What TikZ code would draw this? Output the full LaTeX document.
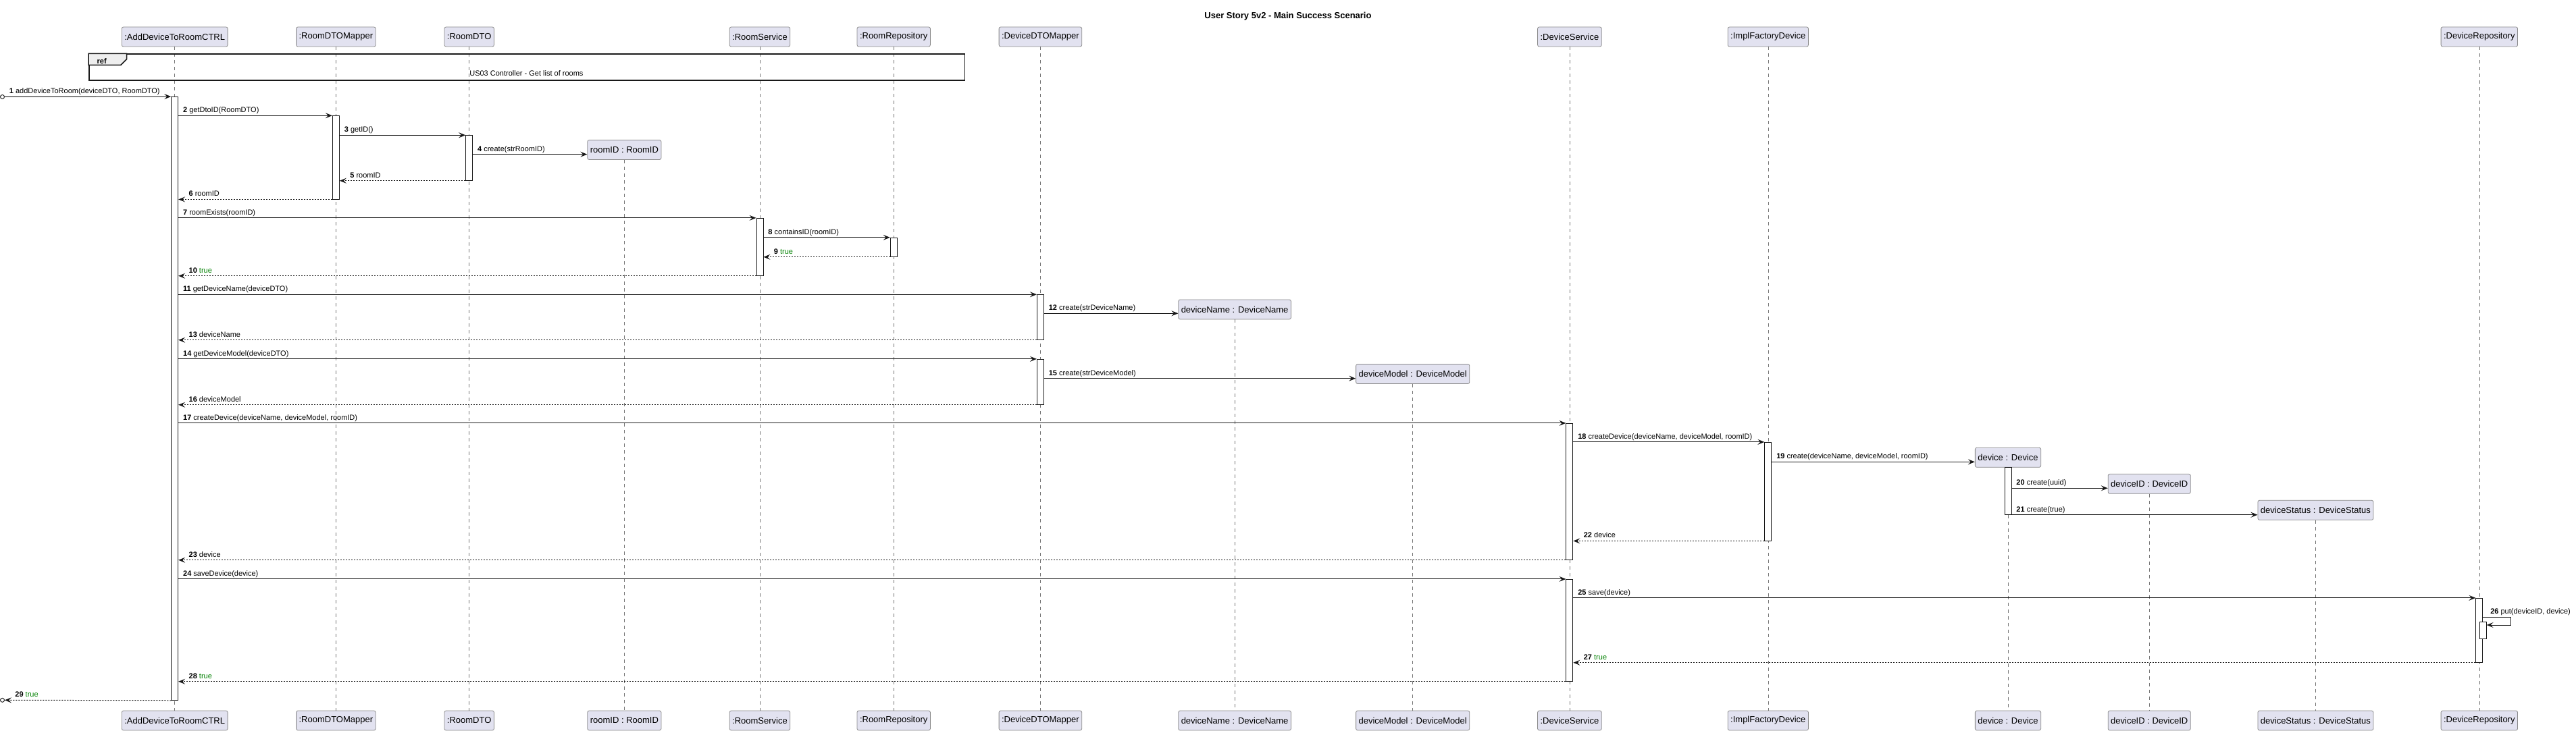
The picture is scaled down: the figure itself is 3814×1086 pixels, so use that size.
\documentclass[tikz,border=0pt]{standalone}
\usepackage{fontspec}
\setmainfont{Liberation Sans}
\usetikzlibrary{arrows.meta}

\definecolor{umlline}{HTML}{181818}
\definecolor{umlbox}{HTML}{E2E2F0}
\definecolor{umlborder}{HTML}{8A8A8A}
\definecolor{truegreen}{HTML}{008000}
\definecolor{reftab}{HTML}{EEEEEE}

\tikzset{
  part/.style={draw=umlborder, fill=umlbox, rounded corners=2.5pt, inner xsep=4pt, inner ysep=0pt,
    minimum height=29pt, line width=0.8pt, font=\fontsize{13}{15}\selectfont},
  lifeline/.style={draw=umlline!60, line width=0.6pt, dash pattern=on 5pt off 5pt},
  actbar/.style={draw=umlline, fill=white, minimum width=10pt, inner sep=0pt, line width=0.9pt},
  call/.style={draw=umlline, line width=1pt, -{Stealth[length=10pt, width=8pt, inset=4pt]}},
  reply/.style={call, dash pattern=on 2pt off 2pt},
  lbl/.style={anchor=base west, inner sep=0pt, yshift=4.5pt, font=\fontsize{11}{13}\selectfont},
  lblcall/.style={lbl, pos=0, xshift=6.5pt},
  lblreply/.style={lbl, pos=1, xshift=15pt},
  found/.style={draw=umlline, fill=white, circle, minimum size=6pt, inner sep=0pt, line width=0.9pt}
}
\newcommand{\tru}{\textcolor{truegreen}{true}}

\begin{document}
\begin{tikzpicture}[x=1pt, y=-1pt]
	\useasboundingbox (0,0) rectangle (3814,1086);
	\node[font=\bfseries\fontsize{13}{15}\selectfont, anchor=base] (title) at (1907,27.5) {User Story 5v2 - Main Success Scenario};

	% participants, top and bottom
	\node[part] (ctrlT) at (258.7,54.5) {:AddDeviceToRoomCTRL};
	\node[part] (ctrlB) at (258.7,1067.5) {:AddDeviceToRoomCTRL};
	\node[part] (rdmT) at (497.4,54.5) {:RoomDTOMapper};
	\node[part] (rdmB) at (497.4,1067.5) {:RoomDTOMapper};
	\node[part] (rdtoT) at (694.7,54.5) {:RoomDTO};
	\node[part] (rdtoB) at (694.7,1067.5) {:RoomDTO};
	\node[part] (ridT) at (924.4,222) {roomID : RoomID};
	\node[part] (ridB) at (924.4,1067.5) {roomID : RoomID};
	\node[part] (rsvT) at (1125,54.5) {:RoomService};
	\node[part] (rsvB) at (1125,1067.5) {:RoomService};
	\node[part] (rrpT) at (1323.2,54.5) {:RoomRepository};
	\node[part] (rrpB) at (1323.2,1067.5) {:RoomRepository};
	\node[part] (ddmT) at (1540.4,54.5) {:DeviceDTOMapper};
	\node[part] (ddmB) at (1540.4,1067.5) {:DeviceDTOMapper};
	\node[part] (dnmT) at (1828.1,458.5) {deviceName : DeviceName};
	\node[part] (dnmB) at (1828.1,1067.5) {deviceName : DeviceName};
	\node[part] (dmdT) at (2091.7,554) {deviceModel : DeviceModel};
	\node[part] (dmdB) at (2091.7,1067.5) {deviceModel : DeviceModel};
	\node[part] (dsvT) at (2323.9,54.5) {:DeviceService};
	\node[part] (dsvB) at (2323.9,1067.5) {:DeviceService};
	\node[part] (ifdT) at (2617.8,54.5) {:ImplFactoryDevice};
	\node[part] (ifdB) at (2617.8,1067.5) {:ImplFactoryDevice};
	\node[part] (devT) at (2973,677.8) {device : Device};
	\node[part] (devB) at (2973,1067.5) {device : Device};
	\node[part] (didT) at (3182.2,716.8) {deviceID : DeviceID};
	\node[part] (didB) at (3182.2,1067.5) {deviceID : DeviceID};
	\node[part] (dstT) at (3428.4,755.8) {deviceStatus : DeviceStatus};
	\node[part] (dstB) at (3428.4,1067.5) {deviceStatus : DeviceStatus};
	\node[part] (drpT) at (3670.8,54.5) {:DeviceRepository};
	\node[part] (drpB) at (3670.8,1067.5) {:DeviceRepository};

	% lifelines
	\draw[lifeline] (ctrlT) -- (ctrlB);
	\draw[lifeline] (rdmT) -- (rdmB);
	\draw[lifeline] (rdtoT) -- (rdtoB);
	\draw[lifeline] (ridT) -- (ridB);
	\draw[lifeline] (rsvT) -- (rsvB);
	\draw[lifeline] (rrpT) -- (rrpB);
	\draw[lifeline] (ddmT) -- (ddmB);
	\draw[lifeline] (dnmT) -- (dnmB);
	\draw[lifeline] (dmdT) -- (dmdB);
	\draw[lifeline] (dsvT) -- (dsvB);
	\draw[lifeline] (ifdT) -- (ifdB);
	\draw[lifeline] (devT) -- (devB);
	\draw[lifeline] (didT) -- (didB);
	\draw[lifeline] (dstT) -- (dstB);
	\draw[lifeline] (drpT) -- (drpB);

	% ref frame
	\node[draw=umlline, line width=1.5pt, minimum width=1296.7pt, minimum height=39pt, inner sep=0pt, anchor=north west] (refbox) at (131,79.3) {};
	\draw[draw=umlline, fill=reftab, line width=1.5pt] (refbox.north west) -- ++(56.5,0) -- ++(0,8.5) -- ++(-8.5,8.5) -- ++(-48,0) -- cycle;
	\node[font=\bfseries\fontsize{11}{13}\selectfont, anchor=base west, inner sep=0pt] (reftag) at (143.5,95) {ref};
	\node[font=\fontsize{11}{13}\selectfont, anchor=base, inner sep=0pt] (reftext) at (779.4,112.3) {US03 Controller - Get list of rooms};

	% activations
	\node[actbar, minimum height=893.8pt] (ctrlA) at (258.7,590.4) {};
	\node[actbar, minimum height=123.3pt] (rdmA) at (497.4,233.35) {};
	\node[actbar, minimum height=66.6pt] (rdtoA) at (694.7,234) {};
	\node[actbar, minimum height=85pt] (rsvA) at (1125,365.8) {};
	\node[actbar, minimum height=28pt] (rrpA) at (1323.2,366.3) {};
	\node[actbar, minimum height=66.6pt] (ddmA) at (1540.4,470) {};
	\node[actbar, minimum height=67pt] (ddmA2) at (1540.4,565.8) {};
	\node[actbar, minimum height=202pt] (dsvA) at (2323.9,728.3) {};
	\node[actbar, minimum height=145.7pt] (ifdA) at (2617.8,728.15) {};
	\node[actbar, minimum height=70pt] (devA) at (2973,727.3) {};
	\node[actbar, minimum height=151pt] (dsvA2) at (2323.9,933.8) {};
	\node[actbar, minimum height=95pt] (drpA) at (3670.8,933.8) {};
	\node[actbar, minimum height=25pt] (drpA2) at (3676.2,934) {};

	% found messages
	\node[found] (found1) at (3.5,143.5) {};
	\node[found] (found2) at (3.5,1037.3) {};

	% messages
	\draw[call] (found1) -- node[lblcall] {\textbf{1} addDeviceToRoom(deviceDTO, RoomDTO)} (ctrlA.north west);
	\draw[call] (ctrlA.east |- rdmA.north) -- node[lblcall] {\textbf{2} getDtoID(RoomDTO)} (rdmA.north west);
	\draw[call] (rdmA.east |- rdtoA.north) -- node[lblcall] {\textbf{3} getID()} (rdtoA.north west);
	\draw[call] (rdtoA.east |- 0,228.7) -- node[lblcall] {\textbf{4} create(strRoomID)} (ridT.west |- 0,228.7);
	\draw[reply] (rdtoA.south west) -- node[lblreply] {\textbf{5} roomID} (rdmA.east |- rdtoA.south);
	\draw[reply] (rdmA.south west) -- node[lblreply] {\textbf{6} roomID} (ctrlA.east |- rdmA.south);
	\draw[call] (ctrlA.east |- rsvA.north) -- node[lblcall] {\textbf{7} roomExists(roomID)} (rsvA.north west);
	\draw[call] (rsvA.east |- rrpA.north) -- node[lblcall] {\textbf{8} containsID(roomID)} (rrpA.north west);
	\draw[reply] (rrpA.south west) -- node[lblreply] {\textbf{9} \tru} (rsvA.east |- rrpA.south);
	\draw[reply] (rsvA.south west) -- node[lblreply] {\textbf{10} \tru} (ctrlA.east |- rsvA.south);
	\draw[call] (ctrlA.east |- ddmA.north) -- node[lblcall] {\textbf{11} getDeviceName(deviceDTO)} (ddmA.north west);
	\draw[call] (ddmA.east |- 0,464.3) -- node[lblcall] {\textbf{12} create(strDeviceName)} (dnmT.west |- 0,464.3);
	\draw[reply] (ddmA.south west) -- node[lblreply] {\textbf{13} deviceName} (ctrlA.east |- ddmA.south);
	\draw[call] (ctrlA.east |- ddmA2.north) -- node[lblcall] {\textbf{14} getDeviceModel(deviceDTO)} (ddmA2.north west);
	\draw[call] (ddmA2.east |- 0,560.7) -- node[lblcall] {\textbf{15} create(strDeviceModel)} (dmdT.west |- 0,560.7);
	\draw[reply] (ddmA2.south west) -- node[lblreply] {\textbf{16} deviceModel} (ctrlA.east |- ddmA2.south);
	\draw[call] (ctrlA.east |- dsvA.north) -- node[lblcall] {\textbf{17} createDevice(deviceName, deviceModel, roomID)} (dsvA.north west);
	\draw[call] (dsvA.east |- ifdA.north) -- node[lblcall] {\textbf{18} createDevice(deviceName, deviceModel, roomID)} (ifdA.north west);
	\draw[call] (ifdA.east |- 0,684.3) -- node[lblcall] {\textbf{19} create(deviceName, deviceModel, roomID)} (devT.west |- 0,684.3);
	\draw[call] (devA.east |- 0,723.3) -- node[lblcall] {\textbf{20} create(uuid)} (didT.west |- 0,723.3);
	\draw[call] (devA.south east) -- node[lblcall] {\textbf{21} create(true)} (dstT.west |- devA.south);
	\draw[reply] (ifdA.south west) -- node[lblreply] {\textbf{22} device} (dsvA.east |- ifdA.south);
	\draw[reply] (dsvA.south west) -- node[lblreply] {\textbf{23} device} (ctrlA.east |- dsvA.south);
	\draw[call] (ctrlA.east |- dsvA2.north) -- node[lblcall] {\textbf{24} saveDevice(device)} (dsvA2.north west);
	\draw[call] (dsvA2.east |- drpA.north) -- node[lblcall] {\textbf{25} save(device)} (drpA.north west);
	\draw[call] (drpA.east |- 0,914.3) -- node[lblcall, xshift=4pt] {\textbf{26} put(deviceID, device)} ++(41.5,0) |- (drpA2.east |- 0,926);
	\draw[reply] (drpA.south west) -- node[lblreply] {\textbf{27} \tru} (dsvA2.east |- drpA.south);
	\draw[reply] (dsvA2.south west) -- node[lblreply] {\textbf{28} \tru} (ctrlA.east |- dsvA2.south);
	\draw[reply] (ctrlA.south west) -- node[lblreply] {\textbf{29} \tru} (found2);
\end{tikzpicture}
\end{document}
